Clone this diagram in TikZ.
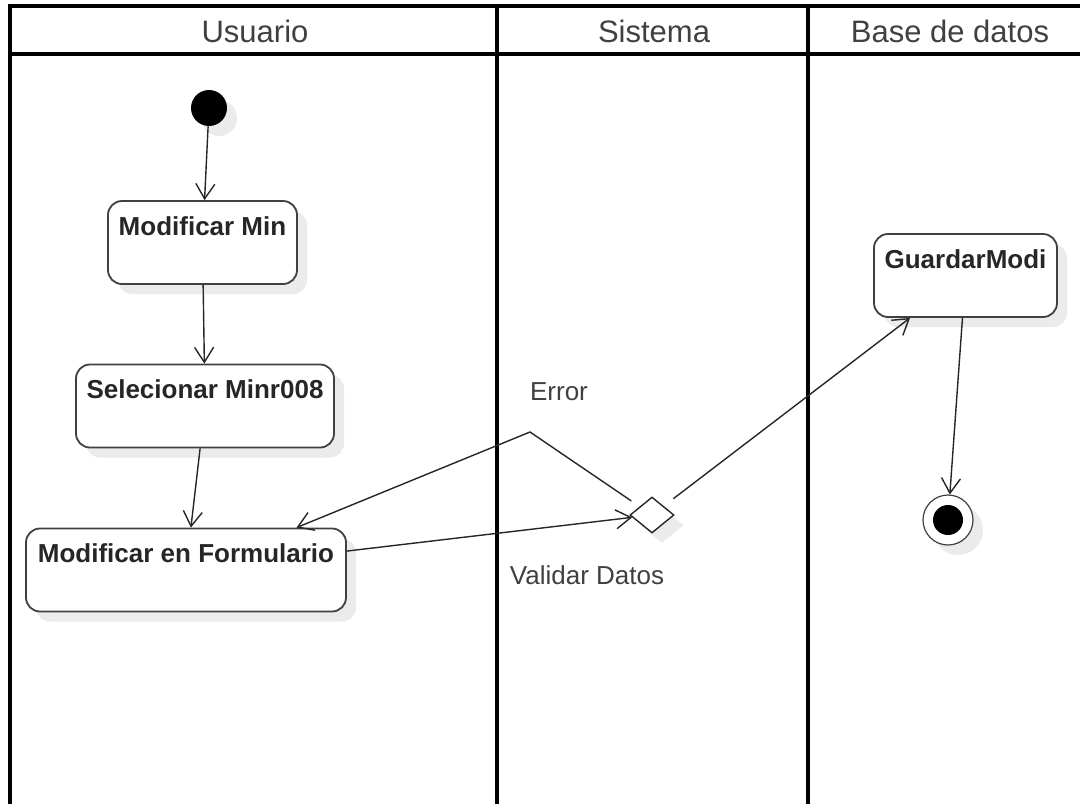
\documentclass[tikz,border=0pt]{standalone}
\usepackage{fontspec}
\setmainfont{Liberation Sans}
\usetikzlibrary{arrows.meta,shapes.geometric,shadows}

\begin{document}
\begin{tikzpicture}[x=0.5pt,y=-0.5pt,
        carril/.style={line width=1.8pt},
        titulo/.style={font=\fontsize{15.5}{18}\selectfont, text=black!75},
        sombra/.style={drop shadow={shadow xshift=5pt, shadow yshift=-5pt, fill=black!8, opacity=1}},
        actividad/.style={draw=black!75, line width=0.9pt, rounded corners=7pt, fill=white, sombra,
            inner sep=0pt, text height=17pt, text depth=24.5pt, minimum height=41.5pt,
            font=\bfseries\fontsize{13}{15}\selectfont, text=black!85},
        inicio/.style={circle, fill=black, inner sep=0pt, minimum size=18pt, sombra},
        final/.style={circle, draw=black!75, line width=0.6pt, fill=white, inner sep=0pt,
            minimum size=25pt, sombra,
            path picture={\fill[black] (path picture bounding box.center) circle (7.5pt);}},
        decision/.style={diamond, draw=black!85, line width=0.7pt, fill=white, inner sep=0pt,
            minimum width=22pt, minimum height=18pt, sombra},
        flujo/.style={-{Straight Barb[length=7.5pt,width=9.5pt]}, line width=0.7pt, draw=black!85},
        etiqueta/.style={font=\fontsize{13}{15}\selectfont, text=black!75}]
    \useasboundingbox (0,0) rectangle (1080,804);
    % \helpgrid
    % carriles
    \draw [carril] (10,804) -- (10,6) -- (1080,6);
    \draw [carril] (10,54) -- (1080,54);
    \draw [carril] (497,6) -- (497,804);
    \draw [carril] (808,6) -- (808,804);
    \node [titulo] (usuario) at (255,31) {Usuario};
    \node [titulo] (sistema) at (654,31) {Sistema};
    \node [titulo] (bd) at (950,31) {Base de datos};

    % actividades
    \node [inicio] (ini) at (209,108) {};
    \node [actividad, minimum width=94.5pt] (modmin) at (202.5,242.5) {Modificar Min};
    \node [actividad, minimum width=129pt] (selmin) at (205,406) {Selecionar Minr008};
    \node [actividad, minimum width=160pt] (form) at (186,570) {Modificar en Formulario};
    \node [decision] (dec) at (652,515) {};
    \node [actividad, minimum width=91.5pt] (guardar) at (965.5,275.5) {GuardarModi};
    \node [final] (fin) at (948,520) {};
    \coordinate (codo) at (530,432);

    \draw [flujo] (ini) -- (modmin);
    \draw [flujo] (modmin) -- (selmin);
    \draw [flujo] (selmin) -- (form);
    \draw [flujo] (form) -- (dec);
    \draw [flujo, shorten <=5pt] (dec) -- (codo) -- (form.21);
    \draw [flujo, shorten <=6pt] (dec) -- (guardar);
    \draw [flujo] (guardar) -- (fin);
    \node [etiqueta] (error) at (559,392) {Error};
    \node [etiqueta] (validar) at (587,575) {Validar Datos};
\end{tikzpicture}
\end{document}
